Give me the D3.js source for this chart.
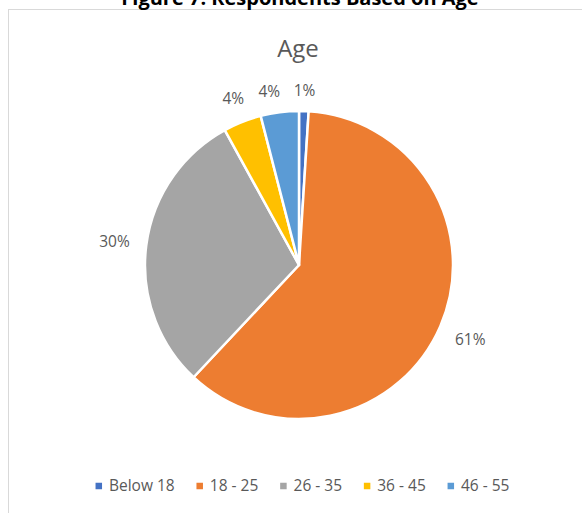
<!DOCTYPE html>
<html>
<head>
<meta charset="utf-8">
<script src="https://cdn.jsdelivr.net/npm/d3@7"></script>
<style>
  html, body { margin: 0; padding: 0; background: #fff; }
  svg { display: block; }
</style>
</head>
<body>
<svg id="chart"></svg>
<script>
const categories = ['Below 18', '18 - 25', '26 - 35', '36 - 45', '46 - 55'];
const percents = [1, 61, 30, 4, 4];
const colors = ['#4472C4', '#ED7D31', '#A5A5A5', '#FFC000', '#5B9BD5'];

const width = 582, height = 513;
const font = '"Open Sans", sans-serif';
const textColor = '#595959';

const svg = d3.select('#chart')
  .attr('width', width)
  .attr('height', height);

// chart area frame (runs off the right and bottom edges)
svg.append('rect')
  .attr('x', 8.5)
  .attr('y', 9.5)
  .attr('width', 620)
  .attr('height', 540)
  .attr('fill', '#fff')
  .attr('stroke', '#D9D9D9')
  .attr('stroke-width', 1);

// caption above the frame, mostly cut off like in the source
svg.append('text')
  .attr('x', 300)
  .attr('y', 4.5)
  .attr('text-anchor', 'middle')
  .style('font-family', font)
  .style('font-weight', 700)
  .style('font-size', '20px')
  .style('fill', '#000')
  .text('Figure 7: Respondents Based on Age');

svg.append('text')
  .attr('x', 298)
  .attr('y', 57)
  .attr('text-anchor', 'middle')
  .style('font-family', font)
  .style('font-size', '24px')
  .style('fill', textColor)
  .text('Age');

const cx = 299, cy = 265, radius = 154;

const data = categories.map((c, i) => ({ name: c, value: percents[i], color: colors[i] }));

const pie = d3.pie()
  .sort(null)
  .value(d => d.value);

const arc = d3.arc()
  .innerRadius(0)
  .outerRadius(radius);

const arcs = pie(data);

const g = svg.append('g')
  .attr('transform', `translate(${cx},${cy})`);

g.selectAll('path')
  .data(arcs)
  .enter()
  .append('path')
  .attr('d', arc)
  .attr('fill', d => d.data.color)
  .attr('stroke', '#fff')
  .attr('stroke-width', 2.5)
  .attr('stroke-linejoin', 'round');

// outside-end data labels
const labels = g.selectAll('.label')
  .data(arcs)
  .enter()
  .append('text')
  .attr('class', 'label')
  .attr('text-anchor', 'middle')
  .attr('dy', '0.35em')
  .style('font-family', font)
  .style('font-size', '15.5px')
  .style('fill', textColor)
  .text(d => d.data.value + '%');

const placed = [];
function labelPos(angle, w, h) {
  const ux = Math.sin(angle), uy = -Math.cos(angle);
  const dist = radius + 13 + Math.abs(ux) * (w + 6) / 2 + Math.abs(uy) * h / 2;
  return [ux * dist, uy * dist];
}

labels.each(function (d) {
  const w = this.getComputedTextLength();
  const h = 14;
  let a = (d.startAngle + d.endAngle) / 2;
  let [x, y] = labelPos(a, w, h);
  // nudge counter-clockwise while crowding a label already placed
  const clash = () => placed.some(p =>
    Math.abs(p.y - y) < h && Math.abs(p.x - x) < (p.w + w) / 2 + 13);
  let tries = 0;
  while (clash() && tries < 60) {
    a -= Math.PI / 360;
    [x, y] = labelPos(a, w, h);
    tries++;
  }
  placed.push({ x, y, w });
  d3.select(this)
    .attr('x', x)
    .attr('y', y);
});

// legend
const legend = svg.append('g');
const items = legend.selectAll('g')
  .data(data)
  .enter()
  .append('g');

items.append('rect')
  .attr('width', 6.5)
  .attr('height', 6.5)
  .attr('y', -6.5 / 2)
  .attr('fill', d => d.color);

items.append('text')
  .attr('x', 13.4)
  .attr('dy', '0.35em')
  .style('font-family', font)
  .style('font-size', '15.5px')
  .style('fill', textColor)
  .text(d => d.name);

let lx = 0;
const offsets = [];
items.each(function () {
  const tw = d3.select(this).select('text').node().getComputedTextLength();
  offsets.push(lx);
  lx += 13.4 + tw + 21.8;
});
const legendWidth = lx - 21.8;
items.attr('transform', (d, i) => `translate(${offsets[i]},0)`);
legend.attr('transform', `translate(${302.5 - legendWidth / 2},486)`);
</script>
</body>
</html>
